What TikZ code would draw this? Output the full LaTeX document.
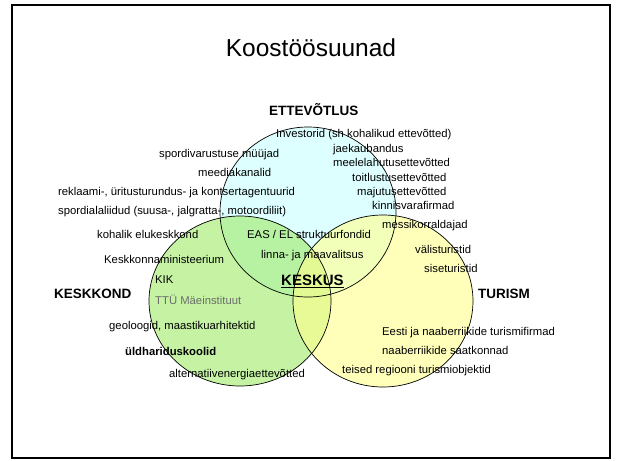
\documentclass[tikz,border=0pt]{standalone}
\usepackage{fontspec}
\setmainfont{Liberation Sans}
\definecolor{blueF}{rgb}{0.78,1,1}
\definecolor{greenF}{rgb}{0.62,0.92,0.40}
\definecolor{yellowF}{rgb}{1,1,0.55}
\definecolor{grayT}{rgb}{0.42,0.42,0.42}
\tikzset{
  txt/.style={anchor=mid west, inner sep=0pt, font=\fontsize{11.3}{13}\selectfont},
  lbl/.style={anchor=mid west, inner sep=0pt, font=\fontsize{13.5}{15}\selectfont\bfseries},
  venn/.style={fill opacity=0.6},
  ring/.style={draw=black, line width=0.7pt},
}
\begin{document}
\begin{tikzpicture}[x=1pt,y=-1pt]
\useasboundingbox (0,0) rectangle (622,461);
\draw[line width=2.5pt] (12,5) rectangle (610,458);
% circles
\fill[venn, blueF] (308,212) ellipse [x radius=88, y radius=85];
\fill[venn, greenF] (240,301) ellipse [x radius=91, y radius=85];
\fill[venn, yellowF] (383,301) ellipse [x radius=90, y radius=86];
\draw[ring] (308,212) ellipse [x radius=88, y radius=85];
\draw[ring] (240,301) ellipse [x radius=91, y radius=85];
\draw[ring] (383,301) ellipse [x radius=90, y radius=86];
% title
\node[inner sep=0pt, font=\fontsize{24.5}{28}\selectfont] (title) at (311,48) {Koostöösuunad};
% labels
\node[lbl] (ett) at (269,113) {ETTEVÕTLUS};
\node[lbl] (kesk) at (54,296) {KESKKOND};
\node[lbl] (tur) at (478,296) {TURISM};
\node[anchor=mid west, inner sep=0pt, font=\fontsize{15}{17}\selectfont\bfseries] (keskus) at (281,283) {\underline{KESKUS}};
% business
\node[txt] (t1) at (276,135) {Investorid (sh kohalikud ettevõtted)};
\node[txt] (t2) at (159,155) {spordivarustuse müüjad};
\node[txt] (t3) at (333,150) {jaekaubandus};
\node[txt] (t4) at (333,164) {meelelahutusettevõtted};
\node[txt] (t5) at (198,174) {meediakanalid};
\node[txt] (t6) at (352,179) {toitlustusettevõtted};
\node[txt] (t7) at (58,193) {reklaami-, üritusturundus- ja kontsertagentuurid};
\node[txt] (t8) at (357,193) {majutusettevõtted};
\node[txt] (t9) at (58,212) {spordialaliidud (suusa-, jalgratta-, motoordiliit)};
\node[txt] (t10) at (372,207) {kinnisvarafirmad};
\node[txt] (t11) at (382,226) {messikorraldajad};
% environment / centre
\node[txt] (t12) at (97,236) {kohalik elukeskkond};
\node[txt] (t13) at (247,236) {EAS / EL struktuurfondid};
\node[txt] (t14) at (261,256) {linna- ja maavalitsus};
\node[txt] (t15) at (104,261) {Keskkonnaministeerium};
\node[txt] (t16) at (155,281) {KIK};
\node[txt, text=grayT] (t17) at (155,302) {TTÜ Mäeinstituut};
\node[txt] (t18) at (109,327) {geoloogid, maastikuarhitektid};
\node[txt, font=\fontsize{11.3}{13}\selectfont\bfseries] (t19) at (125,353) {üldhariduskoolid};
\node[txt] (t20) at (169,375) {alternatiivenergiaettevõtted};
% tourism
\node[txt] (t21) at (415,251) {välisturistid};
\node[txt] (t22) at (424,270) {siseturistid};
\node[txt] (t23) at (382,333) {Eesti ja naaberriikide turismifirmad};
\node[txt] (t24) at (382,352) {naaberriikide saatkonnad};
\node[txt] (t25) at (342,371) {teised regiooni turismiobjektid};
\end{tikzpicture}
\end{document}
